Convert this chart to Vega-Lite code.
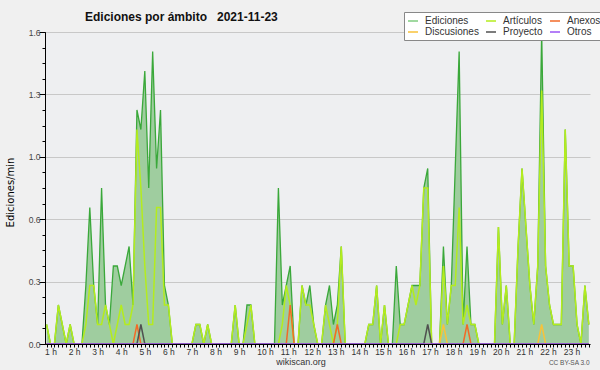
{
  "$schema": "https://vega.github.io/schema/vega-lite/v6.json",
  "width": 545,
  "height": 312,
  "autosize": "none",
  "padding": {"left": 45, "top": 32, "right": 10, "bottom": 26},
  "background": "#f0f0f0",
  "title": {
    "text": "Ediciones por ámbito \u00a0\u00a02021-11-23",
    "anchor": "start",
    "frame": "group",
    "dx": 40,
    "dy": 35,
    "offset": 14,
    "baseline": "alphabetic",
    "font": "Liberation Sans",
    "fontSize": 12,
    "fontWeight": "bold",
    "color": "#111111"
  },
  "data": {
    "values": [
      {"t": 60, "Ediciones": 0.1, "Artículos": 0.1, "Anexos": 0, "Discusiones": 0, "Proyecto": 0, "Otros": 0},
      {"t": 70, "Ediciones": 0, "Artículos": 0},
      {"t": 80, "Ediciones": 0, "Artículos": 0},
      {"t": 90, "Ediciones": 0.2, "Artículos": 0.2},
      {"t": 100, "Ediciones": 0.1, "Artículos": 0.1},
      {"t": 110, "Ediciones": 0, "Artículos": 0},
      {"t": 120, "Ediciones": 0.1, "Artículos": 0.1},
      {"t": 130, "Ediciones": 0, "Artículos": 0},
      {"t": 140, "Ediciones": 0, "Artículos": 0},
      {"t": 150, "Ediciones": 0, "Artículos": 0},
      {"t": 160, "Ediciones": 0.3, "Artículos": 0.1},
      {"t": 170, "Ediciones": 0.7, "Artículos": 0.3},
      {"t": 180, "Ediciones": 0.3, "Artículos": 0.3},
      {"t": 190, "Ediciones": 0.1, "Artículos": 0.1},
      {"t": 200, "Ediciones": 0.8, "Artículos": 0.1},
      {"t": 210, "Ediciones": 0.2, "Artículos": 0.2},
      {"t": 220, "Ediciones": 0.1, "Artículos": 0.1},
      {"t": 230, "Ediciones": 0.4, "Artículos": 0},
      {"t": 240, "Ediciones": 0.4, "Artículos": 0.1},
      {"t": 250, "Ediciones": 0.3, "Artículos": 0.2},
      {"t": 260, "Ediciones": 0.4, "Artículos": 0.1},
      {"t": 270, "Ediciones": 0.5, "Artículos": 0.1},
      {"t": 280, "Ediciones": 0.2, "Artículos": 0.2, "Anexos": 0},
      {"t": 290, "Ediciones": 1.2, "Artículos": 1.1, "Anexos": 0.1, "Proyecto": 0},
      {"t": 300, "Ediciones": 1.1, "Artículos": 0.8, "Anexos": 0, "Proyecto": 0.1},
      {"t": 310, "Ediciones": 1.4, "Artículos": 0.4, "Proyecto": 0},
      {"t": 320, "Ediciones": 0.8, "Artículos": 0.1},
      {"t": 330, "Ediciones": 1.5, "Artículos": 0.1},
      {"t": 340, "Ediciones": 0.9, "Artículos": 0.7},
      {"t": 350, "Ediciones": 1.2, "Artículos": 0.7},
      {"t": 360, "Ediciones": 0.3, "Artículos": 0.2},
      {"t": 370, "Ediciones": 0.2, "Artículos": 0.2},
      {"t": 380, "Ediciones": 0, "Artículos": 0},
      {"t": 390, "Ediciones": 0, "Artículos": 0},
      {"t": 400, "Ediciones": 0, "Artículos": 0},
      {"t": 410, "Ediciones": 0, "Artículos": 0},
      {"t": 420, "Ediciones": 0, "Artículos": 0},
      {"t": 430, "Ediciones": 0, "Artículos": 0},
      {"t": 440, "Ediciones": 0.1, "Artículos": 0.1},
      {"t": 450, "Ediciones": 0.1, "Artículos": 0.1},
      {"t": 460, "Ediciones": 0, "Artículos": 0},
      {"t": 470, "Ediciones": 0.1, "Artículos": 0.1},
      {"t": 480, "Ediciones": 0, "Artículos": 0},
      {"t": 490, "Ediciones": 0, "Artículos": 0},
      {"t": 500, "Ediciones": 0, "Artículos": 0},
      {"t": 510, "Ediciones": 0, "Artículos": 0},
      {"t": 520, "Ediciones": 0, "Artículos": 0},
      {"t": 530, "Ediciones": 0, "Artículos": 0},
      {"t": 540, "Ediciones": 0.2, "Artículos": 0.2},
      {"t": 550, "Ediciones": 0, "Artículos": 0},
      {"t": 560, "Ediciones": 0, "Artículos": 0},
      {"t": 570, "Ediciones": 0.2, "Artículos": 0.1},
      {"t": 580, "Ediciones": 0.2, "Artículos": 0.2},
      {"t": 590, "Ediciones": 0, "Artículos": 0},
      {"t": 600, "Ediciones": 0, "Artículos": 0},
      {"t": 610, "Ediciones": 0, "Artículos": 0},
      {"t": 620, "Ediciones": 0, "Artículos": 0},
      {"t": 630, "Ediciones": 0, "Artículos": 0},
      {"t": 640, "Ediciones": 0, "Artículos": 0},
      {"t": 650, "Ediciones": 0.8, "Artículos": 0},
      {"t": 660, "Ediciones": 0.2, "Artículos": 0.1},
      {"t": 670, "Ediciones": 0.3, "Artículos": 0.3, "Anexos": 0},
      {"t": 680, "Ediciones": 0.4, "Artículos": 0.2, "Anexos": 0.2},
      {"t": 690, "Ediciones": 0, "Artículos": 0, "Anexos": 0},
      {"t": 700, "Ediciones": 0, "Artículos": 0},
      {"t": 710, "Ediciones": 0.3, "Artículos": 0.3},
      {"t": 720, "Ediciones": 0.2, "Artículos": 0.2},
      {"t": 730, "Ediciones": 0.3, "Artículos": 0.2},
      {"t": 740, "Ediciones": 0.1, "Artículos": 0.1},
      {"t": 750, "Ediciones": 0, "Artículos": 0},
      {"t": 760, "Ediciones": 0, "Artículos": 0},
      {"t": 770, "Ediciones": 0.2, "Artículos": 0.2},
      {"t": 780, "Ediciones": 0.3, "Artículos": 0.1},
      {"t": 790, "Ediciones": 0.1, "Artículos": 0, "Anexos": 0},
      {"t": 800, "Ediciones": 0.2, "Artículos": 0.1, "Anexos": 0.1},
      {"t": 810, "Ediciones": 0.5, "Artículos": 0.5, "Anexos": 0},
      {"t": 820, "Ediciones": 0, "Artículos": 0},
      {"t": 830, "Ediciones": 0, "Artículos": 0},
      {"t": 840, "Ediciones": 0, "Artículos": 0},
      {"t": 850, "Ediciones": 0, "Artículos": 0},
      {"t": 860, "Ediciones": 0, "Artículos": 0},
      {"t": 870, "Ediciones": 0, "Artículos": 0},
      {"t": 880, "Ediciones": 0.1, "Artículos": 0.1},
      {"t": 890, "Ediciones": 0.1, "Artículos": 0.1},
      {"t": 900, "Ediciones": 0.3, "Artículos": 0.3},
      {"t": 910, "Ediciones": 0, "Artículos": 0},
      {"t": 920, "Ediciones": 0.2, "Artículos": 0.2},
      {"t": 930, "Ediciones": 0, "Artículos": 0},
      {"t": 940, "Ediciones": 0, "Artículos": 0},
      {"t": 950, "Ediciones": 0.4, "Artículos": 0},
      {"t": 960, "Ediciones": 0.1, "Artículos": 0.1},
      {"t": 970, "Ediciones": 0.1, "Artículos": 0.1},
      {"t": 980, "Ediciones": 0.2, "Artículos": 0.2},
      {"t": 990, "Ediciones": 0.3, "Artículos": 0.3},
      {"t": 1000, "Ediciones": 0.3, "Artículos": 0.2},
      {"t": 1010, "Ediciones": 0.3, "Artículos": 0.3},
      {"t": 1020, "Ediciones": 0.8, "Artículos": 0.8, "Proyecto": 0},
      {"t": 1030, "Ediciones": 0.9, "Artículos": 0.8, "Proyecto": 0.1},
      {"t": 1040, "Ediciones": 0, "Artículos": 0, "Proyecto": 0},
      {"t": 1050, "Ediciones": 0, "Artículos": 0},
      {"t": 1060, "Ediciones": 0, "Artículos": 0, "Discusiones": 0},
      {"t": 1070, "Ediciones": 0.5, "Artículos": 0.4, "Discusiones": 0.1},
      {"t": 1080, "Ediciones": 0.1, "Artículos": 0.1, "Discusiones": 0},
      {"t": 1090, "Ediciones": 0.3, "Artículos": 0.3},
      {"t": 1100, "Ediciones": 0.9, "Artículos": 0.3},
      {"t": 1110, "Ediciones": 1.5, "Artículos": 0.7},
      {"t": 1120, "Ediciones": 0.1, "Artículos": 0.1, "Anexos": 0},
      {"t": 1130, "Ediciones": 0.5, "Artículos": 0.2, "Anexos": 0.1},
      {"t": 1140, "Ediciones": 0.1, "Artículos": 0.1, "Anexos": 0},
      {"t": 1150, "Ediciones": 0.1, "Artículos": 0.1},
      {"t": 1160, "Ediciones": 0, "Artículos": 0},
      {"t": 1170, "Ediciones": 0, "Artículos": 0},
      {"t": 1180, "Ediciones": 0, "Artículos": 0},
      {"t": 1190, "Ediciones": 0, "Artículos": 0},
      {"t": 1200, "Ediciones": 0, "Artículos": 0},
      {"t": 1210, "Ediciones": 0.6, "Artículos": 0.6},
      {"t": 1220, "Ediciones": 0.1, "Artículos": 0.1},
      {"t": 1230, "Ediciones": 0.3, "Artículos": 0.3},
      {"t": 1240, "Ediciones": 0, "Artículos": 0},
      {"t": 1250, "Ediciones": 0, "Artículos": 0},
      {"t": 1260, "Ediciones": 0.5, "Artículos": 0.5},
      {"t": 1270, "Ediciones": 0.9, "Artículos": 0.9},
      {"t": 1280, "Ediciones": 0.6, "Artículos": 0.6},
      {"t": 1290, "Ediciones": 0.3, "Artículos": 0.3},
      {"t": 1300, "Ediciones": 0.1, "Artículos": 0.1},
      {"t": 1310, "Ediciones": 0.4, "Artículos": 0.4, "Discusiones": 0},
      {"t": 1320, "Ediciones": 1.6, "Artículos": 1.3, "Discusiones": 0.1},
      {"t": 1330, "Ediciones": 0.4, "Artículos": 0.4, "Discusiones": 0},
      {"t": 1340, "Ediciones": 0.2, "Artículos": 0.2},
      {"t": 1350, "Ediciones": 0.1, "Artículos": 0.1},
      {"t": 1360, "Ediciones": 0.1, "Artículos": 0.1},
      {"t": 1370, "Ediciones": 0.1, "Artículos": 0.1},
      {"t": 1380, "Ediciones": 1.1, "Artículos": 1.1},
      {"t": 1390, "Ediciones": 0.4, "Artículos": 0.4},
      {"t": 1400, "Ediciones": 0.4, "Artículos": 0.4},
      {"t": 1410, "Ediciones": 0.1, "Artículos": 0.1},
      {"t": 1420, "Ediciones": 0, "Artículos": 0},
      {"t": 1430, "Ediciones": 0.3, "Artículos": 0.3},
      {"t": 1440, "Ediciones": 0.1, "Artículos": 0.1, "Anexos": 0, "Discusiones": 0, "Proyecto": 0, "Otros": 0}
    ]
  },
  "layer": [
    {
      "mark": {"type": "area", "color": "#9fcd9f", "opacity": 1},
      "encoding": {
        "x": {
          "field": "t", "type": "quantitative",
          "scale": {"domain": [56, 1443], "nice": false, "zero": false},
          "axis": {
            "orient": "bottom", "tickCount": 140,
            "labelExpr": "datum.value % 60 == 0 && datum.value < 1440 ? (datum.value / 60) + ' h' : ''",
            "labelAlign": "left", "labelOffset": -2, "labelOverlap": false, "labelFlush": false,
            "labelPadding": 0, "labelBaseline": "top",
            "labelFont": "Liberation Sans", "labelFontSize": 8.5, "labelColor": "#333333",
            "tickSize": 3, "tickColor": "#000000", "domainColor": "#000000", "grid": false,
            "title": "wikiscan.org", "titleX": 255.5, "titleY": 17, "titleAlign": "center",
            "titleBaseline": "middle", "titleFont": "Liberation Sans", "titleFontSize": 9,
            "titleFontWeight": "normal", "titleColor": "#333333", "zindex": 1
          }
        },
        "y": {
          "field": "Ediciones", "type": "quantitative",
          "scale": {"domain": [0, 1.6], "nice": false},
          "axis": {
            "orient": "left",
            "values": [0, 0.32, 0.64, 0.96, 1.28, 1.6],
            "format": ".1f",
            "tickSize": 6, "tickColor": "#000000", "domainColor": "#000000",
            "labelPadding": -1, "labelFont": "Liberation Sans", "labelFontSize": 8.5, "labelColor": "#444444",
            "grid": true, "gridColor": "#c8c8c8",
            "title": "Ediciones/min", "titleFont": "DejaVu Sans", "titleFontSize": 10,
            "titleFontWeight": "normal", "titleColor": "#000000",
            "titleX": -35, "titleY": 160, "titleAngle": -90, "titleAlign": "center", "titleBaseline": "middle"
          }
        }
      }
    },
    {
      "mark": {"type": "line", "color": "#3aa83a", "strokeWidth": 1.3},
      "encoding": {
        "x": {"field": "t", "type": "quantitative", "axis": null},
        "y": {
          "field": "Ediciones", "type": "quantitative",
          "axis": {
            "orient": "left",
            "values": [0, 0.08, 0.16, 0.24, 0.32, 0.4, 0.48, 0.56, 0.64, 0.72, 0.8, 0.88, 0.96, 1.04, 1.12, 1.2, 1.28, 1.36, 1.44, 1.52, 1.6],
            "labels": false, "domain": false, "grid": false, "tickSize": 3, "tickColor": "#000000", "title": null
          }
        }
      }
    },
    {
      "transform": [
        {"fold": ["Artículos", "Anexos", "Discusiones", "Proyecto", "Otros"], "as": ["serie", "valor"]},
        {"filter": "isValid(datum.valor)"}
      ],
      "mark": {"type": "line", "strokeWidth": 1.5},
      "encoding": {
        "x": {
          "field": "t", "type": "quantitative",
          "axis": {
            "orient": "bottom", "domain": false, "ticks": false, "labels": false, "grid": false,
            "title": "CC BY-SA 3.0", "titleX": 544, "titleY": 18, "titleAlign": "right",
            "titleBaseline": "middle", "titleFont": "Liberation Sans", "titleFontSize": 6.5,
            "titleFontWeight": "normal", "titleColor": "#555555"
          }
        },
        "y": {"field": "valor", "type": "quantitative", "axis": null},
        "color": {
          "field": "serie", "type": "nominal",
          "scale": {
            "domain": ["Ediciones", "Artículos", "Anexos", "Discusiones", "Proyecto", "Otros"],
            "range": ["#80cc80", "#b4ec1e", "#f26a28", "#f8c23a", "#505050", "#9b55f5"]
          },
          "legend": {
            "orient": "none", "legendX": 359, "legendY": -20,
            "columns": 3, "direction": "horizontal",
            "symbolType": "stroke", "symbolSize": 100, "symbolStrokeWidth": 1.5,
            "labelFont": "Liberation Sans", "labelFontSize": 10, "labelColor": "#333333",
            "fillColor": "#ffffff", "strokeColor": "#888888",
            "padding": 3, "rowPadding": 0, "columnPadding": 4, "labelOffset": 6,
            "title": null, "labelLimit": 200
          }
        }
      }
    }
  ],
  "resolve": {"axis": {"x": "independent", "y": "independent"}},
  "config": {"view": {"stroke": null, "fill": "#eeeff1"}}
}
